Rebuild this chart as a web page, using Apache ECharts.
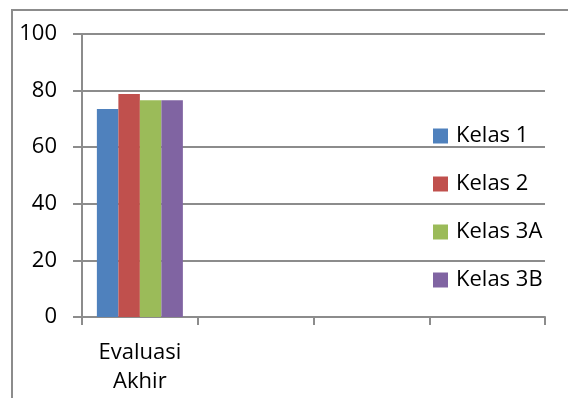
<!DOCTYPE html>
<html><head><meta charset="utf-8">
<script src="https://cdn.jsdelivr.net/npm/echarts@6/dist/echarts.min.js"></script>
<style>html,body{margin:0;padding:0;background:#fff}#c{width:568px;height:398px}</style>
</head><body><div id="c"></div>
<script>
const categories = ['Evaluasi\nAkhir', '', '', ''];
const seriesNames = ['Kelas 1', 'Kelas 2', 'Kelas 3A', 'Kelas 3B'];
const kelas1 = [73.5, null, null, null];
const kelas2 = [78.8, null, null, null];
const kelas3A = [76.6, null, null, null];
const kelas3B = [76.6, null, null, null];
const yTicks = [0, 20, 40, 60, 80, 100];
const colors = ['#4F81BD', '#C0504D', '#9BBB59', '#8064A2'];
const values = [kelas1, kelas2, kelas3A, kelas3B];
const font = "'Open Sans', sans-serif";
const chart = echarts.init(document.getElementById('c'));
chart.setOption({
  animation: false,
  color: colors,
  graphic: [{type:'rect', shape:{x:12, y:10, width:600, height:420}, style:{fill:'none', stroke:'#8c8c8c', lineWidth:2}, silent:true}],
  grid: {left: 82, right: 23, top: 34, bottom: 81, containLabel: false},
  legend: {
    orient: 'vertical', left: 428, top: 120, itemWidth: 15, itemHeight: 15, itemGap: 26,
    icon: 'rect', data: seriesNames,
    textStyle: {fontSize: 22, color: '#000', fontFamily: font, padding: [0, 0, 0, 3]}
  },
  xAxis: {
    type: 'category', data: categories,
    axisLine: {lineStyle: {color: '#8c8c8c', width: 2}},
    axisTick: {show: true, length: 8, lineStyle: {color: '#8c8c8c', width: 2}},
    axisLabel: {fontSize: 22, color: '#000', fontFamily: font, lineHeight: 29, margin: 21, interval: 0}
  },
  yAxis: {
    type: 'value', min: yTicks[0], max: yTicks[yTicks.length-1], interval: 20,
    axisLine: {show: true, lineStyle: {color: '#8c8c8c', width: 2}},
    axisTick: {show: true, length: 9, lineStyle: {color: '#8c8c8c', width: 2}},
    splitLine: {lineStyle: {color: '#8c8c8c', width: 2}},
    axisLabel: {fontSize: 22, color: '#000', fontFamily: font, margin: 25}
  },
  series: seriesNames.map((n, i) => ({
    name: n, type: 'bar', data: values[i], barWidth: 21.5, barGap: '0%',
    itemStyle: {color: colors[i]}
  }))
});
</script></body></html>
